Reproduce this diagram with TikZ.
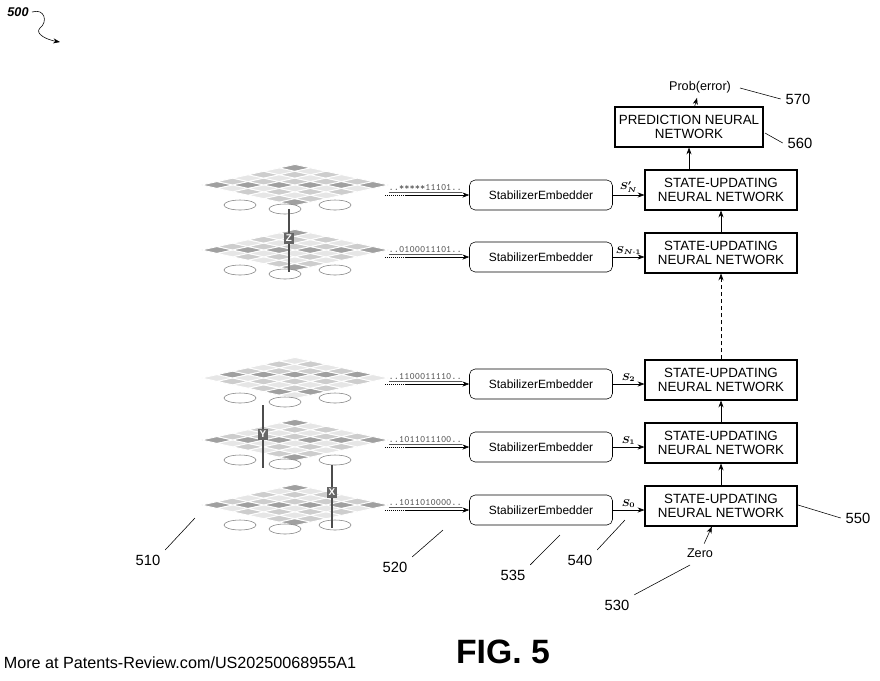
\documentclass[tikz,border=0pt]{standalone}
\usepackage{amsmath,amssymb}
\usepackage{fontspec}
\setmainfont{Liberation Sans}
\usetikzlibrary{arrows.meta,positioning,calc}
\definecolor{cellA}{RGB}{230,230,230}
\definecolor{cellB}{RGB}{205,205,205}
\definecolor{cellC}{RGB}{160,160,160}
\tikzset{
  subox/.style={draw, thick, minimum width=152*0.025cm, minimum height=40*0.025cm, align=center, font=\fontsize{9.5}{10.5}\selectfont, inner sep=1pt},
  embox/.style={draw, rounded corners=4pt, minimum width=143*0.025cm, minimum height=30*0.025cm, font=\fontsize{8.5}{9}\selectfont},
  bits/.style={font=\ttfamily\fontsize{7}{7}\selectfont, inner sep=1pt, anchor=south east, gray!70!black},
  ref/.style={font=\fontsize{10.5}{11}\selectfont},
  lead/.style={thin},
  gate/.style={fill=black!60, text=white, font=\bfseries\fontsize{7}{7}\selectfont, inner sep=1.5pt},
}
% one slice of the lattice
\newcommand{\layer}[2]{%
  \begin{scope}[shift={(#1,#2)}, yscale=0.22, rotate=45]
    \foreach \i in {0,...,5}
      \foreach \j in {0,...,5} {
        \pgfmathtruncatemacro{\k}{mod(\i*7+\j*3+#2,5)}
        \ifnum\k=0 \def\cc{cellC}\else\ifnum\k<3 \def\cc{cellB}\else\def\cc{cellA}\fi\fi
        \filldraw[fill=\cc, draw=white, line width=0.6pt] (\i*22-66,\j*22-66) rectangle ++(22,22);
      }
  \end{scope}
  \draw[gray, thin] (#1-55,#2+20) ellipse (16 and 5);
  \draw[gray, thin] (#1+40,#2+20) ellipse (16 and 5);
  \draw[gray, thin] (#1-10,#2+24) ellipse (16 and 5);
}
\begin{document}
\begin{tikzpicture}[x=0.025cm, y=-0.025cm, >=Stealth]
\useasboundingbox (0,0) rectangle (880,680);

% figure number
\node[font=\bfseries\itshape\fontsize{9}{9}\selectfont] (fignum) at (18,12) {500};
\draw[->] (32,12) .. controls (45,8) and (48,22) .. (40,28) .. controls (34,34) and (48,40) .. (60,42);

% lattice slices
\foreach \yy in {185,250,378,440,505} \layer{295}{\yy};
\draw[black!70, line width=1.5pt] (289,209) -- (289,272);
\node[gate] (gz) at (289,238) {Z};
\draw[black!70, line width=1.5pt] (263,405) -- (263,468);
\node[gate] (gy) at (263,434) {Y};
\draw[black!70, line width=1.5pt] (332,465) -- (332,528);
\node[gate] (gx) at (332,492) {X};

% state-updating chain
\node[subox] (su5) at (721,190) {STATE-UPDATING\\NEURAL NETWORK};
\node[subox] (su4) at (721,253) {STATE-UPDATING\\NEURAL NETWORK};
\node[subox] (su3) at (721,380) {STATE-UPDATING\\NEURAL NETWORK};
\node[subox] (su2) at (721,443) {STATE-UPDATING\\NEURAL NETWORK};
\node[subox] (su1) at (721,506) {STATE-UPDATING\\NEURAL NETWORK};
\node[subox, minimum width=148*0.025cm] (pred) at (689,127) {PREDICTION NEURAL\\NETWORK};
\node[font=\fontsize{9}{9}\selectfont] (prob) at (700,87) {Prob(error)};
\node[font=\fontsize{9}{9}\selectfont] (zero) at (700,553) {Zero};

\draw[->] (zero) -- (su1);
\draw[->] (su1) -- (su2);
\draw[->] (su2) -- (su3);
\draw[->, densely dashed] (su3) -- (su4);
\draw[->] (su4) -- (su5);
\draw[->] (su5.north -| pred.south) -- (pred.south);
\draw[->] (pred) -- (prob);

% embedders
\foreach \n/\yy/\s/\b in {5/195/{S'_N}/{*****11101},4/257/{S_{N\text{-}1}}/{0100011101},3/384/{S_2}/{1100011110},2/447/{S_1}/{1011011100},1/510/{S_0}/{1011010000}} {
  \node[embox] (emb\n) at (541,\yy) {StabilizerEmbedder};
  \coordinate (src\n) at (385,\yy);
  \coordinate (mid\n) at (405,\yy);
  \draw[densely dotted] (src\n) -- (mid\n);
  \draw[->] (mid\n) -- (emb\n.west);
  \node[bits] at (emb\n.west |- mid\n) [xshift=-4pt] {\underline{..\b..}};
  \draw[->] (emb\n.east) -- (emb\n.east -| su\n.west) node[pos=0.5, above, font=\fontsize{7}{7}\selectfont, inner sep=1.5pt] {$\boldsymbol{\s}$};
}

% reference numerals
\node[ref] (r570) at (798,99) {570};
\draw[lead] (740,88) -- (r570.west);
\node[ref] (r560) at (800,143) {560};
\draw[lead] (765,133) -- (r560.west);
\node[ref] (r550) at (858,518) {550};
\draw[lead] (798,505) -- (r550.west);
\node[ref] (r530) at (617,605) {530};
\draw[lead] (r530.north east) -- (690,565);
\node[ref] (r510) at (148,560) {510};
\draw[lead] (r510.north east) -- (195,518);
\node[ref] (r520) at (395,567) {520};
\draw[lead] (r520.north east) -- (443,530);
\node[ref] (r535) at (513,575) {535};
\draw[lead] (r535.north east) -- (560,535);
\node[ref] (r540) at (580,560) {540};
\draw[lead] (r540.north east) -- (625,520);

\node[font=\bfseries\fontsize{24}{24}\selectfont] (fig) at (503,652) {FIG. 5};
\node[font=\fontsize{11.5}{11.5}\selectfont] (foot) at (180,663) {More at Patents-Review.com/US20250068955A1};
\end{tikzpicture}
\end{document}
